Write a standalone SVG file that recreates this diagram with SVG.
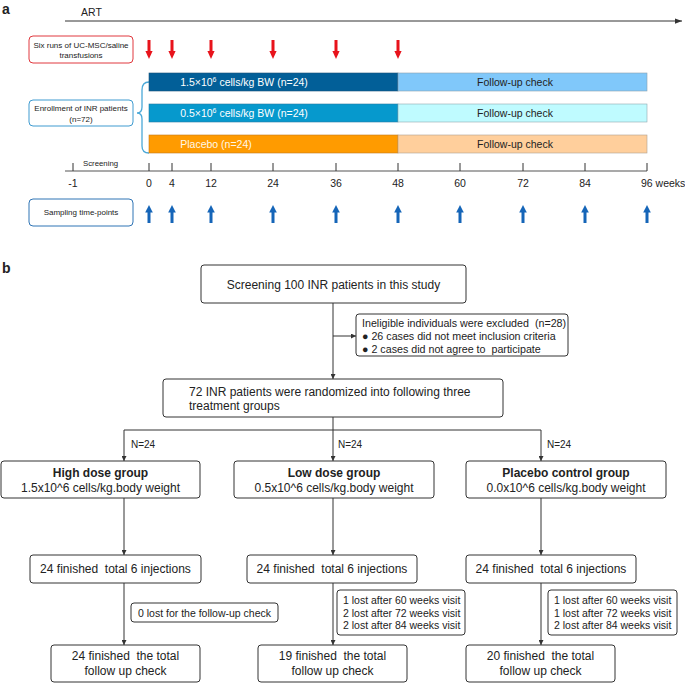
<svg xmlns="http://www.w3.org/2000/svg" width="685" height="683" viewBox="0 0 685 683">
<style>
text{font-family:"Liberation Sans",Arial,sans-serif;fill:#222;white-space:pre}
.lbl{font-size:10.5px}
.sm{font-size:8px}
.tk{font-size:10.5px;text-anchor:middle}
.box{fill:#fff;stroke:#333;stroke-width:1}
.ln{stroke:#333;stroke-width:1;fill:none}
.b12{font-size:12px}
.b10{font-size:10px}
.inel{font-size:10.7px}
.mid{text-anchor:middle}
.bold{font-weight:bold}
.ra{fill:#e8131b}
.ba{fill:#1565b8}
.wt{fill:#fff;font-size:10.5px;text-anchor:middle}
</style>
<defs>
<marker id="ah" viewBox="0 0 8 8" refX="8" refY="4" markerWidth="5" markerHeight="5" orient="auto" markerUnits="userSpaceOnUse"><path d="M0,0 L8,4 L0,8 z" fill="#333"/></marker>
<marker id="ah2" viewBox="0 0 8 8" refX="8" refY="4" markerWidth="7" markerHeight="7" orient="auto" markerUnits="userSpaceOnUse"><path d="M0,1 L8,4 L0,7 z" fill="#333"/></marker>
<symbol id="ra" overflow="visible"><rect x="-1.5" y="0" width="3" height="12" class="ra"/><path d="M-3.6,11 L3.6,11 L0,19 z" class="ra"/></symbol>
<symbol id="ba" overflow="visible"><rect x="-1.5" y="6" width="3" height="12" class="ba"/><path d="M0,0 L-3.8,7.5 L3.8,7.5 z" class="ba"/></symbol>
</defs>

<text x="2" y="14" font-size="14" class="bold">a</text>
<text x="2" y="273" font-size="14" class="bold">b</text>

<!-- panel a -->
<g id="art">
<text x="81" y="16" class="lbl">ART</text>
<line x1="65" y1="21" x2="682" y2="21" stroke="#333" stroke-width="1" marker-end="url(#ah2)"/>
</g>
<g id="transfusions-box">
<rect x="29" y="36" width="104" height="27" rx="4" fill="#fff" stroke="#e0393e" stroke-width="1"/>
<text x="81" y="47.5" class="sm mid">Six runs of UC-MSC/saline</text>
<text x="81" y="58" class="sm mid">transfusions</text>
</g>
<g id="red-arrows">
<use href="#ra" x="149" y="40"/>
<use href="#ra" x="172" y="40"/>
<use href="#ra" x="211" y="40"/>
<use href="#ra" x="273" y="40"/>
<use href="#ra" x="336" y="40"/>
<use href="#ra" x="398" y="40"/>
</g>
<g id="enrollment-box">
<rect x="29" y="100" width="104" height="26" rx="4" fill="#fff" stroke="#3f9bd0" stroke-width="1"/>
<text x="81" y="111" class="sm mid">Enrollment of INR patients</text>
<text x="81" y="121.5" class="sm mid">(n=72)</text>
<path d="M149,82 Q142,82 142,90 L142,107 Q142,113 137,113 Q142,113 142,119 L142,146 Q142,153 149,153" fill="none" stroke="#4aa8d8" stroke-width="1.3"/>
</g>
<g id="bar-high">
<rect x="149" y="73" width="249" height="18" fill="#025f98" stroke="#1d5378" stroke-width="0.6"/>
<rect x="398" y="73" width="249" height="18" fill="#80c8fa" stroke="#8aa0b0" stroke-width="0.6"/>
<text x="244" y="86" class="wt">1.5×10<tspan font-size="7" dy="-4">6</tspan><tspan dy="4"> cells/kg BW (n=24)</tspan></text>
<text x="515" y="86" class="lbl mid">Follow-up check</text>
</g>
<g id="bar-low">
<rect x="149" y="104" width="249" height="18" fill="#0699cd" stroke="#2a7aa0" stroke-width="0.6"/>
<rect x="398" y="104" width="249" height="18" fill="#bffbff" stroke="#90a8b0" stroke-width="0.6"/>
<text x="244" y="117" class="wt">0.5×10<tspan font-size="7" dy="-4">6</tspan><tspan dy="4"> cells/kg BW (n=24)</tspan></text>
<text x="515" y="117" class="lbl mid">Follow-up check</text>
</g>
<g id="bar-placebo">
<rect x="149" y="135" width="249" height="18" fill="#ff9b00" stroke="#c07a20" stroke-width="0.6"/>
<rect x="398" y="135" width="249" height="18" fill="#ffcf9c" stroke="#b0a090" stroke-width="0.6"/>
<text x="216" y="148" class="wt" style="fill:#fff8e8">Placebo (n=24)</text>
<text x="515" y="148" class="lbl mid">Follow-up check</text>
</g>
<g id="timeline">
<line x1="65" y1="171" x2="647" y2="171" stroke="#555" stroke-width="1.2"/>
<path d="M73,163V171M149,163V171M172,163V171M211,163V171M273,163V171M336,163V171M398,163V171M460,163V171M523,163V171M585,163V171M647,163V171" stroke="#333" stroke-width="1"/>
<text x="83" y="166" style="font-size:7.8px">Screening</text>
<text x="73" y="187" class="tk">-1</text>
<text x="149" y="187" class="tk">0</text>
<text x="172" y="187" class="tk">4</text>
<text x="211" y="187" class="tk">12</text>
<text x="273" y="187" class="tk">24</text>
<text x="336" y="187" class="tk">36</text>
<text x="398" y="187" class="tk">48</text>
<text x="460" y="187" class="tk">60</text>
<text x="523" y="187" class="tk">72</text>
<text x="585" y="187" class="tk">84</text>
<text x="641" y="187" class="lbl">96 weeks</text>
</g>
<g id="sampling-box">
<rect x="29" y="199" width="104" height="27" rx="4" fill="#fff" stroke="#2f74b5" stroke-width="1"/>
<text x="81" y="215" class="sm mid">Sampling time-points</text>
</g>
<g id="blue-arrows">
<use href="#ba" x="149" y="205"/>
<use href="#ba" x="172" y="205"/>
<use href="#ba" x="211" y="205"/>
<use href="#ba" x="273" y="205"/>
<use href="#ba" x="336" y="205"/>
<use href="#ba" x="398" y="205"/>
<use href="#ba" x="460" y="205"/>
<use href="#ba" x="523" y="205"/>
<use href="#ba" x="585" y="205"/>
<use href="#ba" x="647" y="205"/>
</g>

<!-- panel b connectors -->
<g id="connectors">
<line x1="333" y1="303" x2="333" y2="379" class="ln" marker-end="url(#ah)"/>
<line x1="333" y1="336" x2="356" y2="336" class="ln" marker-end="url(#ah)"/>
<line x1="333" y1="417" x2="333" y2="430" class="ln"/>
<line x1="124" y1="430" x2="541" y2="430" class="ln"/>
<line x1="124" y1="430" x2="124" y2="461" class="ln" marker-end="url(#ah)"/>
<line x1="333" y1="430" x2="333" y2="461" class="ln" marker-end="url(#ah)"/>
<line x1="541" y1="430" x2="541" y2="461" class="ln" marker-end="url(#ah)"/>
<line x1="124" y1="498" x2="124" y2="555" class="ln" marker-end="url(#ah)"/>
<line x1="333" y1="498" x2="333" y2="555" class="ln" marker-end="url(#ah)"/>
<line x1="541" y1="498" x2="541" y2="555" class="ln" marker-end="url(#ah)"/>
<line x1="124" y1="583" x2="124" y2="645" class="ln" marker-end="url(#ah)"/>
<line x1="333" y1="583" x2="333" y2="645" class="ln" marker-end="url(#ah)"/>
<line x1="541" y1="583" x2="541" y2="645" class="ln" marker-end="url(#ah)"/>
<text x="131" y="448" class="b10">N=24</text>
<text x="338" y="448" class="b10">N=24</text>
<text x="547" y="448" class="b10">N=24</text>
</g>

<g id="screening">
<rect x="201" y="265" width="265" height="38" rx="3" class="box"/>
<text x="333.5" y="289" class="b12 mid">Screening 100 INR patients in this study</text>
</g>
<g id="ineligible">
<rect x="356" y="314" width="212" height="42" rx="3" class="box"/>
<text x="362" y="327" class="inel">Ineligible individuals were excluded  (n=28)</text>
<text x="362" y="340" class="inel">● 26 cases did not meet inclusion criteria</text>
<text x="362" y="353" class="inel">● 2 cases did not agree to  participate</text>
</g>
<g id="randomized">
<rect x="163" y="379" width="340" height="38" rx="3" class="box"/>
<text x="189" y="396" class="b12">72 INR patients were randomized into following three</text>
<text x="189" y="410" class="b12">treatment groups</text>
</g>
<g id="high-group">
<rect x="1" y="461" width="199" height="37" rx="3" class="box"/>
<text x="100.5" y="477" class="b12 mid bold">High dose group</text>
<text x="100.5" y="492" class="b12 mid">1.5x10^6 cells/kg.body weight</text>
</g>
<g id="low-group">
<rect x="234" y="461" width="200" height="37" rx="3" class="box"/>
<text x="334" y="477" class="b12 mid bold">Low dose group</text>
<text x="334" y="492" class="b12 mid">0.5x10^6 cells/kg.body weight</text>
</g>
<g id="placebo-group">
<rect x="466" y="461" width="200" height="37" rx="3" class="box"/>
<text x="566" y="477" class="b12 mid bold">Placebo control group</text>
<text x="566" y="492" class="b12 mid">0.0x10^6 cells/kg.body weight</text>
</g>
<g id="high-inj">
<rect x="30" y="555" width="171" height="28" rx="3" class="box"/>
<text x="115.5" y="573" class="b12 mid">24 finished  total 6 injections</text>
</g>
<g id="low-inj">
<rect x="247" y="555" width="170" height="28" rx="3" class="box"/>
<text x="332" y="573" class="b12 mid">24 finished  total 6 injections</text>
</g>
<g id="placebo-inj">
<rect x="466" y="555" width="170" height="28" rx="3" class="box"/>
<text x="551" y="573" class="b12 mid">24 finished  total 6 injections</text>
</g>
<g id="high-lost">
<rect x="131" y="603" width="147" height="19" rx="3" class="box"/>
<text x="204.5" y="616.5" class="lbl mid">0 lost for the follow-up check</text>
</g>
<g id="low-lost">
<rect x="337" y="590" width="128" height="45" rx="3" class="box"/>
<text x="343" y="604" class="lbl">1 lost after 60 weeks visit</text>
<text x="343" y="616.5" class="lbl">2 lost after 72 weeks visit</text>
<text x="343" y="629" class="lbl">2 lost after 84 weeks visit</text>
</g>
<g id="placebo-lost">
<rect x="548" y="590" width="129" height="45" rx="3" class="box"/>
<text x="554" y="604" class="lbl">1 lost after 60 weeks visit</text>
<text x="554" y="616.5" class="lbl">1 lost after 72 weeks visit</text>
<text x="554" y="629" class="lbl">2 lost after 84 weeks visit</text>
</g>
<g id="high-final">
<rect x="51" y="645" width="149" height="37" rx="3" class="box"/>
<text x="125.5" y="660" class="b12 mid">24 finished  the total</text>
<text x="125.5" y="675" class="b12 mid">follow up check</text>
</g>
<g id="low-final">
<rect x="258" y="645" width="149" height="37" rx="3" class="box"/>
<text x="332.5" y="660" class="b12 mid">19 finished  the total</text>
<text x="332.5" y="675" class="b12 mid">follow up check</text>
</g>
<g id="placebo-final">
<rect x="466" y="645" width="149" height="37" rx="3" class="box"/>
<text x="540.5" y="660" class="b12 mid">20 finished  the total</text>
<text x="540.5" y="675" class="b12 mid">follow up check</text>
</g>
</svg>
